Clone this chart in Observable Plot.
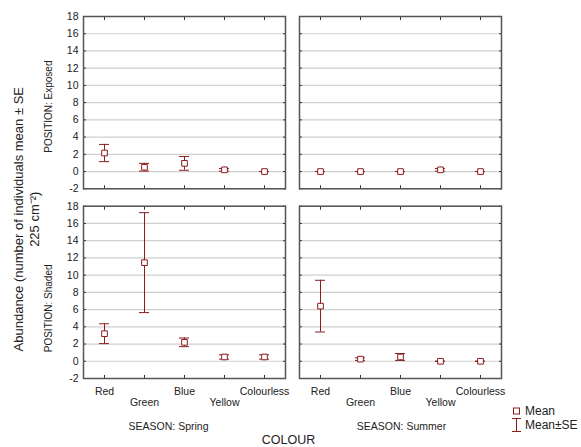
<!DOCTYPE html>
<html>
<head>
<meta charset="utf-8">
<script src="https://cdn.jsdelivr.net/npm/d3@7"></script>
<script src="https://cdn.jsdelivr.net/npm/@observablehq/plot@0.6"></script>
<style>
  html, body { margin: 0; padding: 0; background: #fff; }
  #wrap { position: relative; width: 581px; height: 447px; font-family: "Liberation Sans", Arial, sans-serif; color: #222; }
  .leg { position: absolute; font-size: 12px; line-height: 14px; white-space: nowrap; }
  .leg svg { position: absolute; overflow: visible; }
</style>
</head>
<body>
<div id="wrap">
  <div id="chart"></div>
  <div class="leg" style="left:510px; top:404px;">
    <svg width="12" height="14" style="left:0; top:0;"><rect x="3.5" y="4" width="6" height="6" fill="#fff" stroke="#8c1c1c" stroke-width="1"/></svg>
    <span style="position:absolute; left:15px; top:0;">Mean</span>
  </div>
  <div class="leg" style="left:510px; top:418px;">
    <svg width="12" height="16" style="left:0; top:0;">
      <line x1="6.5" y1="0.5" x2="6.5" y2="13.5" stroke="#8c1c1c"/>
      <line x1="2" y1="0.5" x2="11" y2="0.5" stroke="#8c1c1c"/>
      <line x1="2" y1="13.5" x2="11" y2="13.5" stroke="#8c1c1c"/>
    </svg>
    <span style="position:absolute; left:15px; top:0;">Mean±SE</span>
  </div>
</div>
<script>
// ---- data ----
const colours = ["Red", "Green", "Blue", "Yellow", "Colourless"];
const seasons = ["Spring", "Summer"];
const positions = ["Exposed", "Shaded"];
const yTicks = [-2, 0, 2, 4, 6, 8, 10, 12, 14, 16, 18];

const springExposedMean = [2.15, 0.5, 0.95, 0.2, 0];
const springExposedSE   = [1.0, 0.45, 0.8, 0.15, 0];
const summerExposedMean = [0, 0, 0, 0.2, 0];
const summerExposedSE   = [0, 0, 0, 0.15, 0];
const springShadedMean  = [3.2, 11.45, 2.2, 0.5, 0.5];
const springShadedSE    = [1.15, 5.8, 0.5, 0.25, 0.25];
const summerShadedMean  = [6.4, 0.25, 0.5, 0, 0];
const summerShadedSE    = [3.0, 0.15, 0.4, 0, 0];

const yTitle = "Abundance (number of individuals mean ± SE\n225 cm⁻²)";
const xTitle = "COLOUR";

// ---- build long table ----
const groups = [
  ["Spring", "Exposed", springExposedMean, springExposedSE],
  ["Summer", "Exposed", summerExposedMean, summerExposedSE],
  ["Spring", "Shaded", springShadedMean, springShadedSE],
  ["Summer", "Shaded", summerShadedMean, summerShadedSE]
];
const data = [];
for (const [season, position, means, ses] of groups) {
  colours.forEach((c, i) => data.push({season, position, colour: c, mean: means[i], se: ses[i]}));
}

const red = "#8c1c1c";
const ink = "#222";

const chart = Plot.plot({
  width: 581,
  height: 447,
  marginLeft: 83,
  marginRight: 80,
  marginTop: 16,
  marginBottom: 69,
  style: {fontFamily: "'Liberation Sans', Arial, sans-serif", fontSize: "10.5px", color: ink, background: "#fff", overflow: "visible"},
  fx: {domain: seasons, paddingInner: 0.0648, paddingOuter: 0, round: false, axis: null, label: null},
  fy: {domain: positions, paddingInner: 0.092, paddingOuter: 0, round: false, axis: null, label: null},
  x: {type: "band", domain: colours, paddingInner: 0.75, paddingOuter: 0.4, round: false, label: null},
  y: {domain: [-2, 18], label: null},
  marks: [
    Plot.gridY(yTicks, {stroke: "#cfcfcf", strokeOpacity: 1, strokeWidth: 1.2}),
    Plot.axisY({anchor: "left", ticks: yTicks, tickSize: 0, tickPadding: 5, tickFormat: d => String(d), label: null}),
    Plot.axisY({anchor: "left", ticks: yTicks, tickSize: -3, text: null, facetAnchor: null, stroke: "#333", label: null}),
    Plot.axisY({anchor: "right", ticks: yTicks, tickSize: -3, text: null, facetAnchor: null, stroke: "#333", label: null}),
    Plot.axisX({anchor: "bottom", tickSize: -3, text: null, facetAnchor: null, stroke: "#333", label: null}),
    Plot.axisX({anchor: "top", tickSize: -3, text: null, facetAnchor: null, stroke: "#333", label: null}),
    Plot.axisX({anchor: "bottom", ticks: ["Red", "Blue", "Colourless"], tickSize: 0, tickPadding: 9, label: null}),
    Plot.axisX({anchor: "bottom", ticks: ["Green", "Yellow"], tickSize: 0, tickPadding: 20.5, label: null}),
    Plot.frame({stroke: "#555", strokeWidth: 1.5}),
    Plot.ruleX(data, {fx: "season", fy: "position", x: "colour", y1: d => d.mean - d.se, y2: d => d.mean + d.se, stroke: red, strokeWidth: 1}),
    Plot.tickY(data, {fx: "season", fy: "position", x: "colour", y: d => d.mean - d.se, stroke: red}),
    Plot.tickY(data, {fx: "season", fy: "position", x: "colour", y: d => d.mean + d.se, stroke: red}),
    Plot.dot(data, {fx: "season", fy: "position", x: "colour", y: "mean", symbol: "square", r: 3.2, stroke: red, fill: "#fff", strokeWidth: 1}),
    // facet labels
    Plot.text(["Exposed"], {fx: () => "Spring", fy: d => d, frameAnchor: "left", textAnchor: "middle", lineAnchor: "middle", rotate: -90, dx: -35, dy: 4, text: d => "POSITION: " + d, fontSize: 10, fill: ink}),
    Plot.text(["Shaded"], {fx: () => "Spring", fy: d => d, frameAnchor: "left", textAnchor: "middle", lineAnchor: "middle", rotate: -90, dx: -35, dy: 16, text: d => "POSITION: " + d, fontSize: 10, fill: ink}),
    Plot.text(["Spring"], {fx: d => d, fy: () => "Shaded", frameAnchor: "bottom", textAnchor: "middle", lineAnchor: "middle", dy: 47.7, dx: -16, text: d => "SEASON: " + d, fill: ink}),
    Plot.text(["Summer"], {fx: d => d, fy: () => "Shaded", frameAnchor: "bottom", textAnchor: "middle", lineAnchor: "middle", dy: 47.7, dx: 1, text: d => "SEASON: " + d, fill: ink}),
    // axis titles
    Plot.text([yTitle], {fx: () => "Spring", fy: () => "Shaded", frameAnchor: "top-left", textAnchor: "middle", lineAnchor: "middle", rotate: -90, dx: -58, dy: 13, lineHeight: 1.25, fontSize: 13, fill: ink, text: d => d}),
    Plot.text([xTitle], {fx: () => "Spring", fy: () => "Shaded", frameAnchor: "bottom-right", textAnchor: "middle", lineAnchor: "middle", dx: 3, dy: 61, fontSize: 12.5, fill: ink, text: d => d})
  ]
});
document.getElementById("chart").appendChild(chart);
</script>
</body>
</html>
